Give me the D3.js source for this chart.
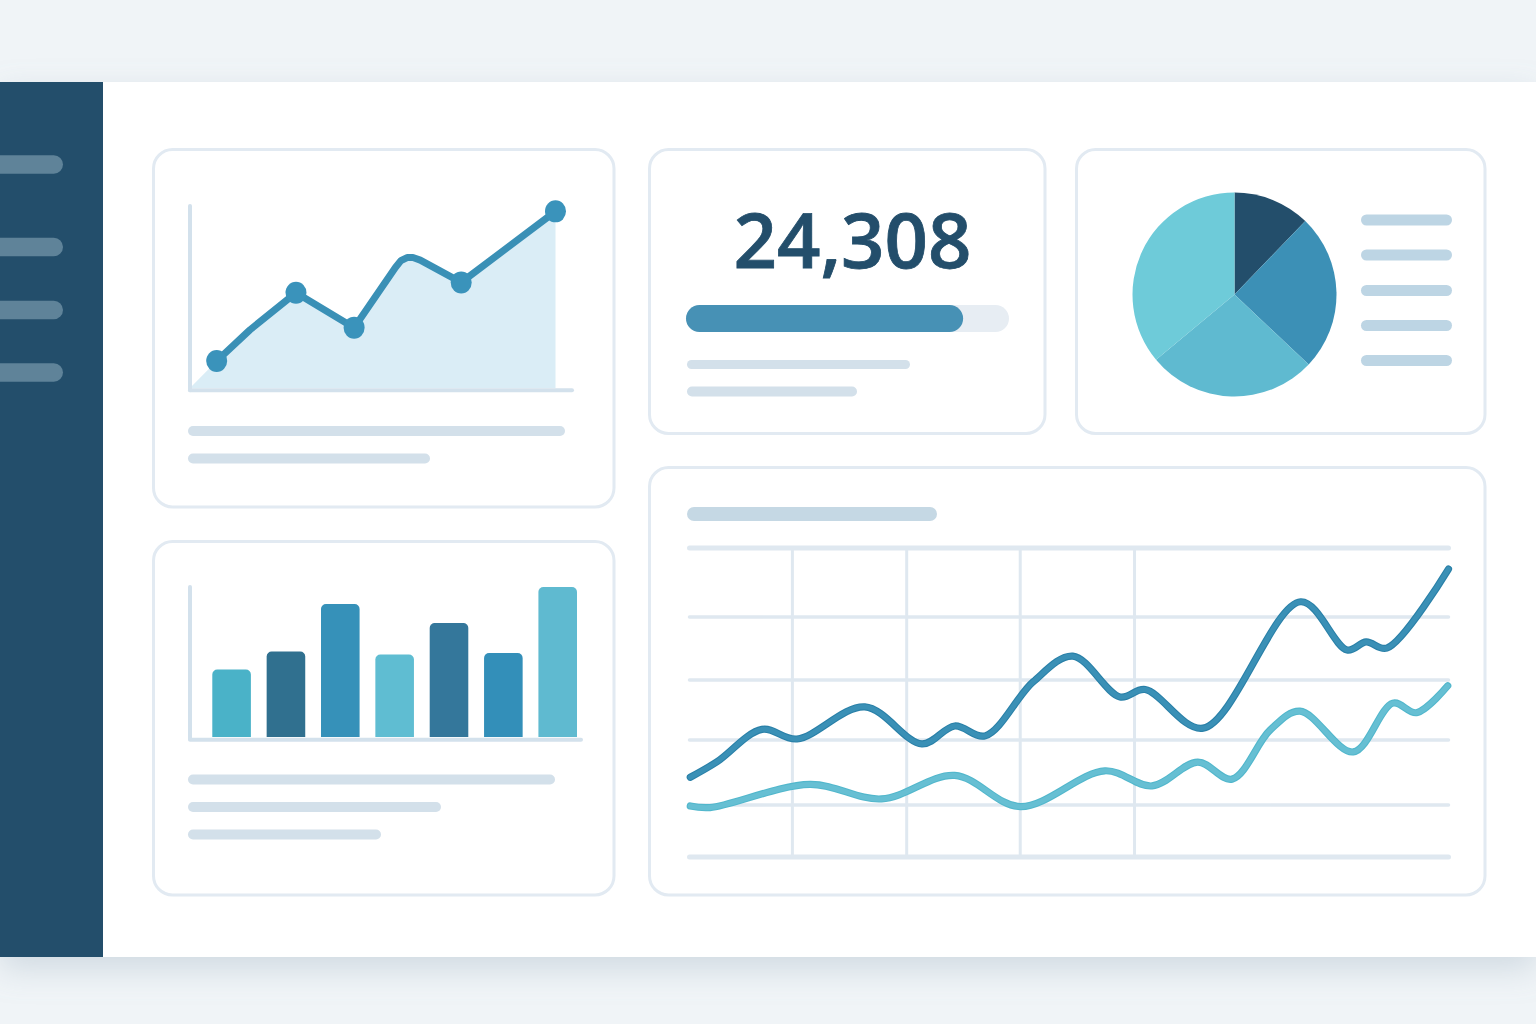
<!DOCTYPE html>
<html><head><meta charset="utf-8">
<script src="https://d3js.org/d3.v7.min.js"></script>
<style>html,body{margin:0;padding:0;background:#f0f4f7;overflow:hidden}svg{display:block}</style>
</head><body><svg id="c" width="1536" height="1024"></svg>
<script>
// ---- data ----
const kpiLabel = "24,308";
const progressShare = 85.8;
const navItems = ["a","b","c","d"];
const areaT = [7.3,16.4,29.0,44.9,56.2,57.7,59.4,61.0,63.0,74.2,100];
const areaV = [14.7,31.6,51.8,32.8,65.5,69.2,70.9,70.9,69.5,57.4,96];
const areaMarkerT = [7.3,29.0,44.9,74.2,100];
const areaMarkerV = [14.7,51.8,32.8,57.4,96];
const barCats = ["A","B","C","D","E","F","G"];
const barVals = [45,57,88.7,55,76,56,100];
const pieVals = [12.2,24.8,26.9,36];
const lineT = [0.3,3.8,9.7,14.3,23.2,30.7,35,39,45.3,50.5,56.7,60,67.6,80.4,86.5,89,91.7,99.8];
const lineDark = [25.8,30.8,41.3,38.2,48.6,36.6,42.4,39.2,56.7,65,51.8,54.2,41.7,82.6,67,69.6,67.6,93.2];
const lightT = [0.3,2.9,16,25.4,35,43.6,54.7,60.9,66.9,71.4,76.4,80.3,87.3,92.5,95.6,99.7];
const lineLight = [16.5,16,23.5,18.8,26.4,16.3,27.9,23,30.7,25.2,41.1,47.2,34,49.8,46.7,55.4];
const gridH = [100,77.7,57.3,37.9,16.8,0];
const gridV = [13.7,28.7,43.6,58.6];
// ---- palette ----
const C = {bg:"#f0f4f7",navy:"#234e6b",pill:"#5f8399",card:"#e2eaf2",axis:"#d3e1ec",fill:"#daedf6",
  blue:"#3a93bb",line:"#3a90b6",lineEdge:"#2a80a8",teal:"#66bfd3",tealEdge:"#52b7cc",pale:"#d3e0ea",legend:"#bdd5e4",title:"#c5d8e4",grid:"#dfe8f0",track:"#e7edf3",prog:"#4791b5"};
const barColors = ["#4ab2c8","#30708f","#3691b9","#5fbdd2","#34779b","#338fb9","#5fbad0"];
const pieColors = ["#234e6b","#3c90b6","#5fbad0","#6ecbd9"];

const svg = d3.select("#c");
const defs = svg.append("defs");
const f = defs.append("filter").attr("id","sh").attr("x","-5%").attr("y","-5%").attr("width","110%").attr("height","115%");
f.append("feDropShadow").attr("dx",0).attr("dy",12).attr("stdDeviation",16).attr("flood-color","#93a9b8").attr("flood-opacity",.34);

function pill(g,x,y,w,h,fill){
  return g.append("rect").attr("x",x).attr("y",y-h/2).attr("width",w).attr("height",h).attr("rx",h/2).attr("fill",fill);
}
// frame
svg.append("rect").attr("width",1536).attr("height",1024).attr("fill",C.bg);
svg.append("rect").attr("x",0).attr("y",82).attr("width",1536).attr("height",875).attr("fill","#fff").attr("filter","url(#sh)");
svg.append("rect").attr("x",0).attr("y",82).attr("width",103).attr("height",875).attr("fill",C.navy);
const navY = d3.scaleOrdinal(navItems,[164.5,247,310,372.5]);
navItems.forEach(n=>pill(svg,-20,navY(n),83,18.5,C.pill));
// cards
const cards = [[153.5,149.5,460.5,357.5],[649.5,149.5,395.5,284],[1076.5,149.5,408.5,284],[153.5,541.5,460.5,353.5],[649.5,467.5,835.5,427.5]];
svg.selectAll("rect.card").data(cards).join("rect").attr("class","card")
  .attr("x",d=>d[0]).attr("y",d=>d[1]).attr("width",d=>d[2]).attr("height",d=>d[3]).attr("rx",19)
  .attr("fill","#fff").attr("stroke",C.card).attr("stroke-width",3);

// area chart
const ax = d3.scaleLinear([0,100],[190,555.5]);
const ay = d3.scaleLinear([0,100],[388,204]);
const areaRows = areaT.map((t,i)=>[t,areaV[i]]);
svg.append("path").datum([[0,0],...areaRows]).attr("fill",C.fill)
  .attr("d",d3.area().x(d=>ax(d[0])).y0(ay(0)).y1(d=>ay(d[1])));
svg.append("line").attr("x1",190).attr("x2",190).attr("y1",206).attr("y2",390.3).attr("stroke",C.axis).attr("stroke-width",4).attr("stroke-linecap","round");
svg.append("line").attr("x1",190).attr("x2",572).attr("y1",390.3).attr("y2",390.3).attr("stroke",C.axis).attr("stroke-width",4).attr("stroke-linecap","round");
svg.append("path").datum(areaRows).attr("fill","none").attr("stroke",C.line).attr("stroke-width",7).attr("stroke-linecap","round").attr("stroke-linejoin","round")
  .attr("d",d3.line().x(d=>ax(d[0])).y(d=>ay(d[1])));
svg.selectAll("ellipse.mk").data(areaMarkerT.map((t,i)=>[t,areaMarkerV[i]])).join("ellipse").attr("class","mk")
  .attr("cx",d=>ax(d[0])).attr("cy",d=>ay(d[1])).attr("rx",10.5).attr("ry",11).attr("fill",C.blue);
pill(svg,188,431,377,10,C.pale); pill(svg,188,458.5,242,10,C.pale);

// KPI
svg.append("text").attr("x",852.5).attr("y",268).attr("text-anchor","middle").attr("font-family","Open Sans").attr("font-weight",600)
  .attr("font-size",76).attr("stroke",C.navy).attr("stroke-width",.8).attr("fill",C.navy).text(kpiLabel);
const px = d3.scaleLinear([0,100],[686,1009]);
pill(svg,px(0),318.5,px(100)-px(0),27,C.track);
svg.append("rect").attr("x",px(0)).attr("y",305).attr("width",px(progressShare)-px(0)).attr("height",27).attr("rx",13.5).attr("fill",C.prog);
pill(svg,687,364.5,223,9,C.pale); pill(svg,687,391.5,170,10,C.pale);

// pie
const pieG = svg.append("g").attr("transform","translate(1234.5,294.5)");
const arc = d3.arc().innerRadius(0).outerRadius(102);
pieG.selectAll("path").data(d3.pie().sort(null)(pieVals)).join("path").attr("d",arc).attr("fill",(d,i)=>pieColors[i]);
[220,255,290.5,325.5,360.5].forEach(y=>pill(svg,1361,y,91,11,C.legend));

// bars
const bx = d3.scaleBand(barCats,[212.3,577]).paddingInner(.29).paddingOuter(0);
const by = d3.scaleLinear([0,100],[737,587]);
svg.append("line").attr("x1",190).attr("x2",581).attr("y1",739.7).attr("y2",739.7).attr("stroke",C.axis).attr("stroke-width",4).attr("stroke-linecap","round");
svg.append("line").attr("x1",190).attr("x2",190).attr("y1",587).attr("y2",739).attr("stroke",C.axis).attr("stroke-width",4).attr("stroke-linecap","round");
const barPath = (x,y,w,b,r)=>{const p=d3.path();p.moveTo(x,b);p.lineTo(x,y+r);p.arcTo(x,y,x+r,y,r);p.lineTo(x+w-r,y);p.arcTo(x+w,y,x+w,y+r,r);p.lineTo(x+w,b);p.closePath();return p.toString();};
svg.selectAll("path.bar").data(barVals).join("path").attr("class","bar")
  .attr("d",(d,i)=>barPath(bx(barCats[i]),by(d),bx.bandwidth(),by(0),5))
  .attr("fill",(d,i)=>barColors[i]);
pill(svg,188,779.5,367,10,C.pale); pill(svg,188,807,253,10,C.pale); pill(svg,188,834.5,193,10,C.pale);

// wide line chart
pill(svg,687,514,250,14,C.title);
const lx = d3.scaleLinear([0,100],[688,1450]);
const ly = d3.scaleLinear([0,100],[857,548]);
gridV.forEach(t=>svg.append("line").attr("x1",lx(t)).attr("x2",lx(t)).attr("y1",ly(100)).attr("y2",ly(0)).attr("stroke",C.grid).attr("stroke-width",3));
gridH.forEach((v,i)=>svg.append("line").attr("x1",689.5).attr("x2",1448.5).attr("y1",ly(v)).attr("y2",ly(v)).attr("stroke",C.grid)
  .attr("stroke-width",(i==0||i==5)?5:3.5).attr("stroke-linecap","round"));
const ln = d3.line().x(d=>lx(d[0])).y(d=>ly(d[1])).curve(d3.curveCatmullRom.alpha(.5));
const drawLine = (rows,edge,inner)=>{
  svg.append("path").datum(rows).attr("d",ln).attr("fill","none").attr("stroke",edge).attr("stroke-width",7.2).attr("stroke-linecap","round");
  svg.append("path").datum(rows).attr("d",ln).attr("fill","none").attr("stroke",inner).attr("stroke-width",5).attr("stroke-linecap","round");
};
drawLine(lightT.map((t,i)=>[t,lineLight[i]]),C.tealEdge,C.teal);
drawLine(lineT.map((t,i)=>[t,lineDark[i]]),C.lineEdge,C.line);
</script></body></html>
